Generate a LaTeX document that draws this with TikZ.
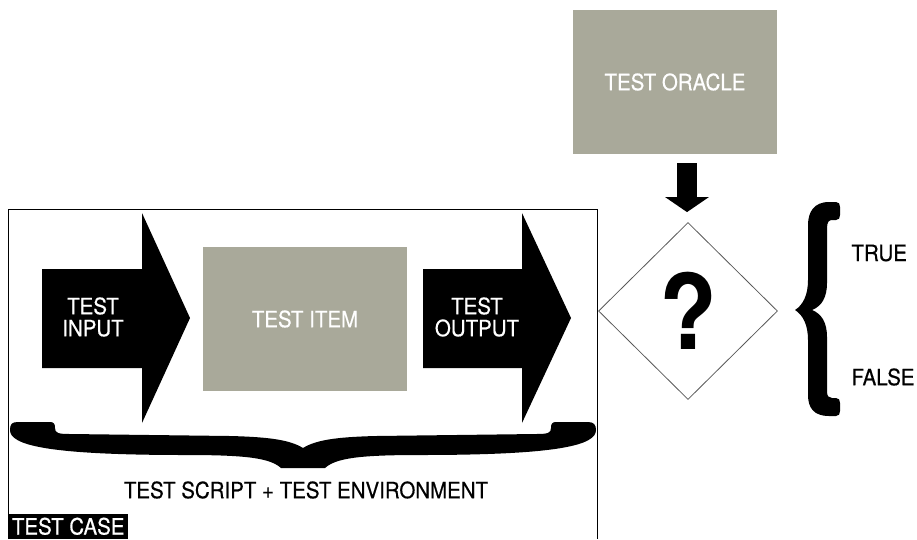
\documentclass[tikz,border=0pt]{standalone}
\usepackage{fontspec}
\setmainfont{TeX Gyre Heros}[FakeStretch=0.91]
\newfontfamily\heavyfam{TeX Gyre Heros}[FakeStretch=0.91, FakeBold=0.5]
\usepackage{tikz}
\usetikzlibrary{arrows.meta, positioning, calc, shapes.geometric}
\definecolor{boxgray}{RGB}{169,169,154}
\newcommand{\lblfont}{\heavyfam\fontsize{22.5}{22}\selectfont}
\tikzset{
    graybox/.style={fill=boxgray, text=white, minimum width=204pt, minimum height=144pt, inner sep=0pt, font=\lblfont},
    blockarrow/.style={fill=black},
    arrowtext/.style={text=white, align=center, font=\lblfont},
    decision/.style={diamond, draw=black!65, line width=0.8pt, minimum width=179pt, minimum height=177pt, inner sep=0pt, font=\bfseries\fontsize{104}{104}\selectfont},
    label/.style={font=\lblfont},
    bigbrace/.style={fill=black}
}

\begin{document}
\begin{tikzpicture}[x=1pt, y=-1pt]
    \useasboundingbox (0,0) rectangle (917,539);
    % Test case frame
    \draw[line width=0.8pt] (8,539) -- (8,209) -- (597,209) -- (597,539);
    % Input and output arrows
    \fill[blockarrow] (42,269) -- (142,269) -- (142,213) -- (190,318) -- (142,423) -- (142,368) -- (42,368) -- cycle;
    \fill[blockarrow] (423,269) -- (522,269) -- (522,213) -- (571,318) -- (522,423) -- (522,368) -- (423,368) -- cycle;
    \node[arrowtext] (input) at (93,317) {TEST\\INPUT};
    \node[arrowtext] (output) at (477,317) {TEST\\OUTPUT};
    % Test item
    \node[graybox] (item) at (305,319) {TEST ITEM};
    % Brace under the test case
    \fill[bigbrace] (10,430) .. controls (10,424) and (12,422) .. (18,422) -- (50,422)
        .. controls (54,422) and (55,424) .. (55,428) .. controls (55,433) and (58,434) .. (70,434)
        -- (230,436) .. controls (270,437) and (290,440) .. (303,448)
        .. controls (316,440) and (336,437) .. (376,436) -- (536,434)
        .. controls (548,434) and (551,433) .. (551,428) .. controls (551,424) and (552,422) .. (556,422)
        -- (588,422) .. controls (594,422) and (596,425) .. (596,430)
        .. controls (596,445) and (560,455) .. (420,455) .. controls (360,455) and (336,458) .. (325,468)
        -- (281,468) .. controls (270,458) and (246,455) .. (186,455)
        .. controls (46,455) and (10,445) .. (10,430) -- cycle;
    \node[label] (script) at (306,490) {TEST SCRIPT + TEST ENVIRONMENT};
    \node[fill=black, text=white, font=\lblfont, anchor=south west, minimum width=120pt, minimum height=25pt, inner sep=0pt] (case) at (8,539) {TEST CASE};
    % Oracle and check
    \node[graybox] (oracle) at (675,82) {TEST ORACLE};
    \node[decision] (check) at (688,311) {?};
    \draw[line width=20pt, -{Triangle[width=43pt, length=15pt]}] ($(check.north |- oracle.south)+(-1,9)$) -- ($(check.north)+(-1,-10)$);
    % Result brace
    \fill[bigbrace] (829,202) -- (836,202) .. controls (839,202) and (840,204) .. (840,207) -- (840,215)
        .. controls (840,218) and (839,220) .. (836,220) -- (832,220) .. controls (829,220) and (827,222) .. (827,228)
        -- (827,283) .. controls (827,297) and (822,306) .. (812,310) .. controls (822,314) and (827,323) .. (827,337)
        -- (827,392) .. controls (827,396) and (829,398) .. (832,398) -- (836,398)
        .. controls (839,398) and (840,400) .. (840,403) -- (840,411) .. controls (840,414) and (839,416) .. (836,416)
        -- (829,416) .. controls (814,416) and (808,408) .. (808,395) -- (808,340)
        .. controls (808,325) and (803,315) .. (795,310) .. controls (803,305) and (808,295) .. (808,280)
        -- (808,225) .. controls (808,212) and (814,202) .. (829,202) -- cycle;
    \node[label, anchor=west] (true) at (848,253) {TRUE};
    \node[label, anchor=west] (false) at (848,377) {FALSE};
\end{tikzpicture}
\end{document}
